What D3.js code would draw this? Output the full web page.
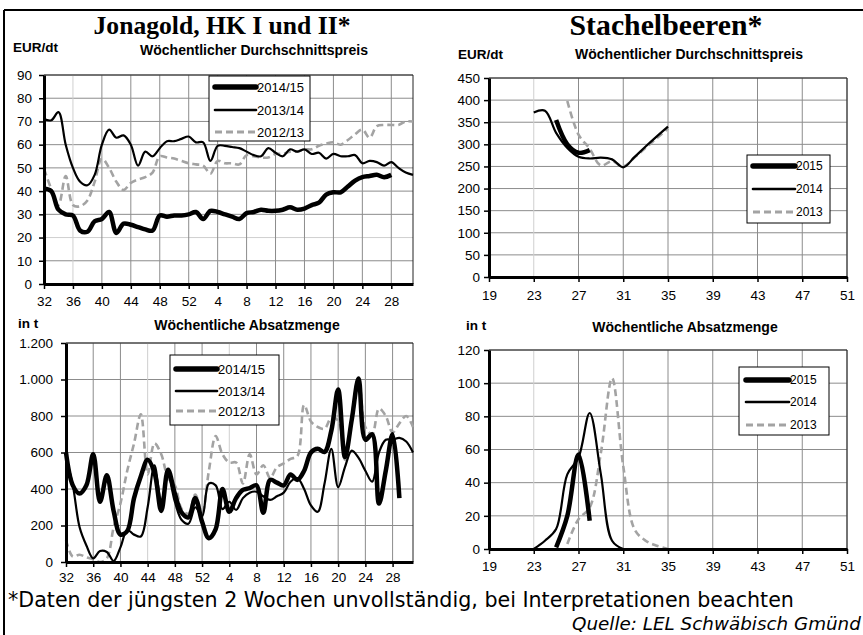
<!DOCTYPE html>
<html>
<head>
<meta charset="utf-8">
<script src="https://cdn.jsdelivr.net/npm/d3@7"></script>
<style>
  html, body { margin: 0; padding: 0; background: #fff; }
  svg { display: block; }
</style>
</head>
<body>
<svg id="chart" width="863" height="635"></svg>
<script>
// Marktbericht: Jonagold + Stachelbeeren, Preis und Absatzmenge je Woche.

// --- data -----------------------------------------------------------------

// Jonagold season runs from week 32 to week 31 of the next year.
const seasonWeeks = [32, 33, 34, 35, 36, 37, 38, 39, 40, 41, 42, 43, 44, 45, 46, 47, 48, 49, 50, 51, 52,
    1, 2, 3, 4, 5, 6, 7, 8, 9, 10, 11, 12, 13, 14, 15, 16, 17, 18, 19, 20, 21, 22, 23, 24, 25, 26, 27, 28, 29, 30, 31];
const seasonTickWeeks = [32, 36, 40, 44, 48, 52, 4, 8, 12, 16, 20, 24, 28];
const jonaSeasons = ["2014/15", "2013/14", "2012/13"];

// EUR/dt, one value per season week starting at week 32
const jonaPrice1415 = [41, 40, 32, 30, 29.5, 23, 22.5, 27, 28, 31, 22, 26, 25.5, 24.5, 23.5, 23, 29.5, 29, 29.5, 29.5,
    30, 31, 28, 31.5, 31, 30, 29, 28, 30.5, 31, 32, 31.5, 31.5, 32, 33, 32, 32.5, 34, 35, 38.5,
    39.5, 39.5, 42, 44.5, 46, 46.5, 47, 46, 47];
const jonaPrice1314 = [71, 70.5, 74, 60, 50, 44, 42.5, 47, 60, 66.5, 63, 64, 60, 51, 57, 55, 58.5, 61.5, 61.5, 62.5,
    63.5, 61, 61, 53, 59.5, 59.5, 59, 58.5, 57, 55.5, 55, 58.5, 56.5, 55, 58, 57, 58, 56, 56.5, 54,
    56, 55, 55, 55.5, 52, 53, 52.5, 51, 52.5, 50, 48, 47];
const jonaPrice1213 = [49.5, 41, 34, 46.5, 34, 33.5, 36, 44, 54, 50, 44, 40.5, 43.5, 45, 46, 48, 55, 54.5, 54, 53,
    52, 51.5, 51, 47.5, 53, 52, 52, 51.5, 55.5, 55, 54.5, 54.5, 56, 56, 57, 57, 58, 58, 59.5, 60.5,
    61, 60, 62, 64.5, 66.5, 63, 68, 68.5, 68.5, 68.5, 70, 70];

// t, one value per season week starting at week 32
const jonaQty1415 = [600, 420, 375, 420, 590, 330, 475, 280, 150, 170, 350, 470, 560, 490, 280, 505, 374, 270, 245, 350,
    220, 130, 180, 400, 275, 350, 395, 405, 420, 270, 450, 435, 420, 480, 450, 500, 600, 620, 603, 720,
    945, 575, 780, 1005, 670, 700, 320, 500, 700, 350];
const jonaQty1314 = [570, 420, 190, 90, 20, 60, 55, 5, 80, 175, 150, 140, 300, 530, 340, 470, 330, 230, 210, 300,
    250, 430, 420, 290, 330, 285, 350, 380, 385, 360, 340, 360, 380, 440, 460, 400, 310, 275, 430, 620,
    410, 520, 610, 570, 500, 440, 600, 670, 670, 680, 660, 600];
const jonaQty1213 = [120, 30, 40, 25, 15, 0, 20, 190, 320, 500, 650, 810, 480, 650, 590, 460, 420, 290, 265, 370,
    270, 500, 690, 590, 545, 545, 430, 590, 480, 530, 460, 520, 540, 565, 580, 860, 770, 740, 730, 790,
    775, 560, 800, 1010, 740, 700, 840, 800, 710, 760, 800, 740];

// Stachelbeeren: calendar weeks
const stachTickWeeks = [19, 23, 27, 31, 35, 39, 43, 47, 51];
const stachYears = ["2015", "2014", "2013"];

const stachPriceWeeks2015 = [25, 26, 27, 28];
const stachPrice2015 = [355, 300, 281, 287];
const stachPriceWeeks2014 = [23, 24, 25, 26, 27, 28, 29, 30, 31, 32, 33, 34, 35];
const stachPrice2014 = [372, 376, 326, 292, 272, 268, 270, 266, 248, 271, 295, 318, 340];
const stachPriceWeeks2013 = [26, 27, 28, 29, 30, 31, 32, 33, 34, 35];
const stachPrice2013 = [398, 322, 290, 252, 262, 250, 270, 292, 314, 336];

const stachQtyWeeks2015 = [25, 26, 27, 28];
const stachQty2015 = [1, 20, 57, 17];
const stachQtyWeeks2014 = [23, 24, 25, 26, 27, 28, 29, 30, 31];
const stachQty2014 = [0, 5, 12, 45, 55, 82, 45, 5, 0];
const stachQtyWeeks2013 = [26, 27, 28, 29, 30, 31, 32, 33, 34, 35];
const stachQty2013 = [3, 18, 25, 58, 103, 50, 12, 5, 2, 0];

// --- look -----------------------------------------------------------------

const SANS = "'Liberation Sans', Arial, sans-serif";
const GRID = "#8c8c8c";
const GRID_LIGHT = "#cfcfcf";

// thick / thin / dashed, same order as the season and year labels
const LINE_STYLE = [
    { stroke: "#000", width: 4.5, legendWidth: 5.5, dash: null },
    { stroke: "#000", width: 2.2, legendWidth: 2.6, dash: null },
    { stroke: "#a3a3a3", width: 2.6, legendWidth: 2.8, dash: "7,4" },
];

const de = d3.formatLocale({ decimal: ",", thousands: ".", grouping: [3], currency: ["", " €"] });

const svg = d3.select("#chart");
svg.append("rect").attr("width", 863).attr("height", 635).attr("fill", "#fff");

// outer frame (top and left edge only, the rest is cut off)
svg.append("line").attr("x1", 4).attr("x2", 863).attr("y1", 10).attr("y2", 10)
    .attr("stroke", "#000").attr("stroke-width", 2);
svg.append("line").attr("x1", 4).attr("x2", 4).attr("y1", 10).attr("y2", 635)
    .attr("stroke", "#000").attr("stroke-width", 2);

// --- panels ---------------------------------------------------------------

const seasonIndex = seasonTickWeeks.map((w) => seasonWeeks.indexOf(w));
const seasonSeries = (vals) => vals.map((v, i) => [i, v]);
const weekSeries = (weeks, vals) => vals.map((v, i) => [weeks[i], v]);

const panels = [
    {
        left: 44, right: 413, top: 75, bottom: 284,
        xDomain: [0, seasonWeeks.length - 1], xTicks: seasonIndex, xLabel: (i) => seasonWeeks[i],
        yMax: 90, yStep: 10, yFmt: de.format(",d"), yPad: 7, xPad: 7,
        lightY: [20], lightX: [seasonWeeks.indexOf(36)],
        unit: "EUR/dt", unitX: 13, unitY: 52,
        sub: "Wöchentlicher Durchschnittspreis", subX: 254, subY: 55,
        series: [seasonSeries(jonaPrice1415), seasonSeries(jonaPrice1314), seasonSeries(jonaPrice1213)],
        labels: jonaSeasons,
        legend: { x: 209, y: 76, w: 101, h: 65, lx0: 215, lx1: 256, tx: 257, rows: [87, 110, 132], fs: 13 },
    },
    {
        left: 66, right: 413, top: 343, bottom: 562,
        xDomain: [0, seasonWeeks.length - 1], xTicks: seasonIndex, xLabel: (i) => seasonWeeks[i],
        yMax: 1200, yStep: 200, yFmt: de.format(",d"), yPad: 8, xPad: 5,
        lightY: [], lightX: [seasonWeeks.indexOf(44), seasonWeeks.indexOf(4)],
        unit: "in t", unitX: 18, unitY: 328,
        sub: "Wöchentliche Absatzmenge", subX: 247, subY: 330,
        series: [seasonSeries(jonaQty1415), seasonSeries(jonaQty1314), seasonSeries(jonaQty1213)],
        labels: jonaSeasons,
        legend: { x: 170, y: 355, w: 109, h: 70, lx0: 176, lx1: 217, tx: 218, rows: [369, 391, 411], fs: 13 },
    },
    {
        left: 489, right: 847, top: 78, bottom: 277,
        xDomain: [19, 51], xTicks: stachTickWeeks, xLabel: (w) => w,
        yMax: 450, yStep: 50, yFmt: de.format(",d"), yPad: 4, xPad: 8,
        lightY: [], lightX: [23],
        unit: "EUR/dt", unitX: 458, unitY: 59,
        sub: "Wöchentlicher Durchschnittspreis", subX: 689, subY: 59,
        series: [
            weekSeries(stachPriceWeeks2015, stachPrice2015),
            weekSeries(stachPriceWeeks2014, stachPrice2014),
            weekSeries(stachPriceWeeks2013, stachPrice2013),
        ],
        labels: stachYears,
        legend: { x: 747, y: 155, w: 83, h: 68, lx0: 753, lx1: 795, tx: 796, rows: [166, 189, 212], fs: 12 },
    },
    {
        left: 489, right: 847, top: 350, bottom: 549,
        xDomain: [19, 51], xTicks: stachTickWeeks, xLabel: (w) => w,
        yMax: 120, yStep: 20, yFmt: de.format(",d"), yPad: 4, xPad: 7.5,
        lightY: [], lightX: [23],
        unit: "in t", unitX: 466, unitY: 330,
        sub: "Wöchentliche Absatzmenge", subX: 685, subY: 332,
        series: [
            weekSeries(stachQtyWeeks2015, stachQty2015),
            weekSeries(stachQtyWeeks2014, stachQty2014),
            weekSeries(stachQtyWeeks2013, stachQty2013),
        ],
        labels: stachYears,
        legend: { x: 739, y: 367, w: 90, h: 68, lx0: 746, lx1: 789, tx: 790, rows: [380, 402, 425], fs: 12 },
    },
];

panels.forEach(drawPanel);

// --- titles and footer ----------------------------------------------------

fitText(svg.append("text").attr("x", 222).attr("y", 34).attr("text-anchor", "middle")
    .attr("font-family", "'Liberation Serif', serif").attr("font-weight", "bold").attr("font-size", 26)
    .text("Jonagold, HK I und II*"), 257);

fitText(svg.append("text").attr("x", 666).attr("y", 35).attr("text-anchor", "middle")
    .attr("font-family", "'Liberation Serif', serif").attr("font-weight", "bold").attr("font-size", 26)
    .text("Stachelbeeren*"), 193);

// footer: the original face is wide, DejaVu Sans comes closest
fitText(svg.append("text").attr("x", 8).attr("y", 607)
    .attr("font-family", "'DejaVu Sans', sans-serif").attr("font-size", 18)
    .text("*Daten der jüngsten 2 Wochen unvollständig, bei Interpretationen beachten"), 786);

fitText(svg.append("text").attr("x", 572).attr("y", 630)
    .attr("font-family", "'DejaVu Sans', sans-serif").attr("font-style", "italic").attr("font-size", 16)
    .text("Quelle: LEL Schwäbisch Gmünd"), 289);

// --- internals ------------------------------------------------------------

function drawPanel(p) {
    const g = svg.append("g");
    const x = d3.scaleLinear().domain(p.xDomain).range([p.left, p.right]);
    const y = d3.scaleLinear().domain([0, p.yMax]).range([p.bottom, p.top]);
    const yTicks = d3.range(0, p.yMax + p.yStep / 2, p.yStep);

    // grid
    g.append("g").selectAll("line").data(yTicks.slice(1)).join("line")
        .attr("x1", p.left).attr("x2", p.right)
        .attr("y1", (d) => y(d)).attr("y2", (d) => y(d))
        .attr("stroke", (d) => p.lightY.includes(d) ? GRID_LIGHT : GRID).attr("stroke-width", 1);
    g.append("g").selectAll("line").data(p.xTicks.slice(1)).join("line")
        .attr("x1", (d) => x(d)).attr("x2", (d) => x(d))
        .attr("y1", p.top).attr("y2", p.bottom)
        .attr("stroke", (d) => p.lightX.includes(d) ? GRID_LIGHT : GRID).attr("stroke-width", 1);

    // plot area border, top and right
    g.append("path")
        .attr("d", `M${p.left},${p.top}H${p.right}V${p.bottom}`)
        .attr("fill", "none").attr("stroke", "#222").attr("stroke-width", 1);

    // series, thick one painted last
    const line = d3.line()
        .x((d) => x(d[0]))
        .y((d) => y(d[1]))
        .curve(d3.curveCatmullRom.alpha(0.5));

    const order = [2, 1, 0];
    g.append("g").selectAll("path").data(order).join("path")
        .attr("d", (i) => line(p.series[i]))
        .attr("fill", "none")
        .attr("stroke", (i) => LINE_STYLE[i].stroke)
        .attr("stroke-width", (i) => LINE_STYLE[i].width)
        .attr("stroke-dasharray", (i) => LINE_STYLE[i].dash)
        .attr("stroke-linejoin", "round");

    // axes
    const yAxis = g.append("g")
        .attr("transform", `translate(${p.left},0)`)
        .call(d3.axisLeft(y).tickValues(yTicks).tickFormat(p.yFmt)
            .tickSize(5).tickSizeOuter(0).tickPadding(p.yPad));
    const xAxis = g.append("g")
        .attr("transform", `translate(0,${p.bottom})`)
        .call(d3.axisBottom(x).tickValues(p.xTicks).tickFormat(p.xLabel)
            .tickSize(5).tickSizeOuter(0).tickPadding(p.xPad));

    [yAxis, xAxis].forEach((a) => {
        a.select(".domain").attr("stroke", "#000").attr("stroke-width", 3);
        a.selectAll(".tick line").attr("stroke", "#000").attr("stroke-width", 1.5);
        a.selectAll(".tick text").attr("fill", "#000")
            .attr("font-family", SANS).attr("font-size", 13.5);
    });

    // headings
    g.append("text").attr("x", p.unitX).attr("y", p.unitY)
        .attr("font-family", SANS).attr("font-weight", "bold").attr("font-size", 13.5)
        .text(p.unit);
    g.append("text").attr("x", p.subX).attr("y", p.subY).attr("text-anchor", "middle")
        .attr("font-family", SANS).attr("font-weight", "bold").attr("font-size", 14)
        .text(p.sub);

    // legend
    const L = p.legend;
    const lg = g.append("g");
    lg.append("rect")
        .attr("x", L.x).attr("y", L.y).attr("width", L.w).attr("height", L.h)
        .attr("fill", "#fff").attr("stroke", "#000").attr("stroke-width", 1);
    p.labels.forEach((label, i) => {
        const st = LINE_STYLE[i];
        lg.append("line")
            .attr("x1", L.lx0).attr("x2", L.lx1).attr("y1", L.rows[i]).attr("y2", L.rows[i])
            .attr("stroke", st.stroke).attr("stroke-width", st.legendWidth)
            .attr("stroke-dasharray", st.dash)
            .attr("stroke-linecap", st.dash ? "butt" : "round");
        lg.append("text")
            .attr("x", L.tx).attr("y", L.rows[i]).attr("dy", "0.35em")
            .attr("font-family", SANS).attr("font-size", L.fs)
            .text(label);
    });
}

function fitText(text, width) {
    const fs = parseFloat(text.attr("font-size"));
    const w = text.node().getComputedTextLength();
    if (w > 0) text.attr("font-size", (fs * width / w).toFixed(2));
    return text;
}
</script>
</body>
</html>
